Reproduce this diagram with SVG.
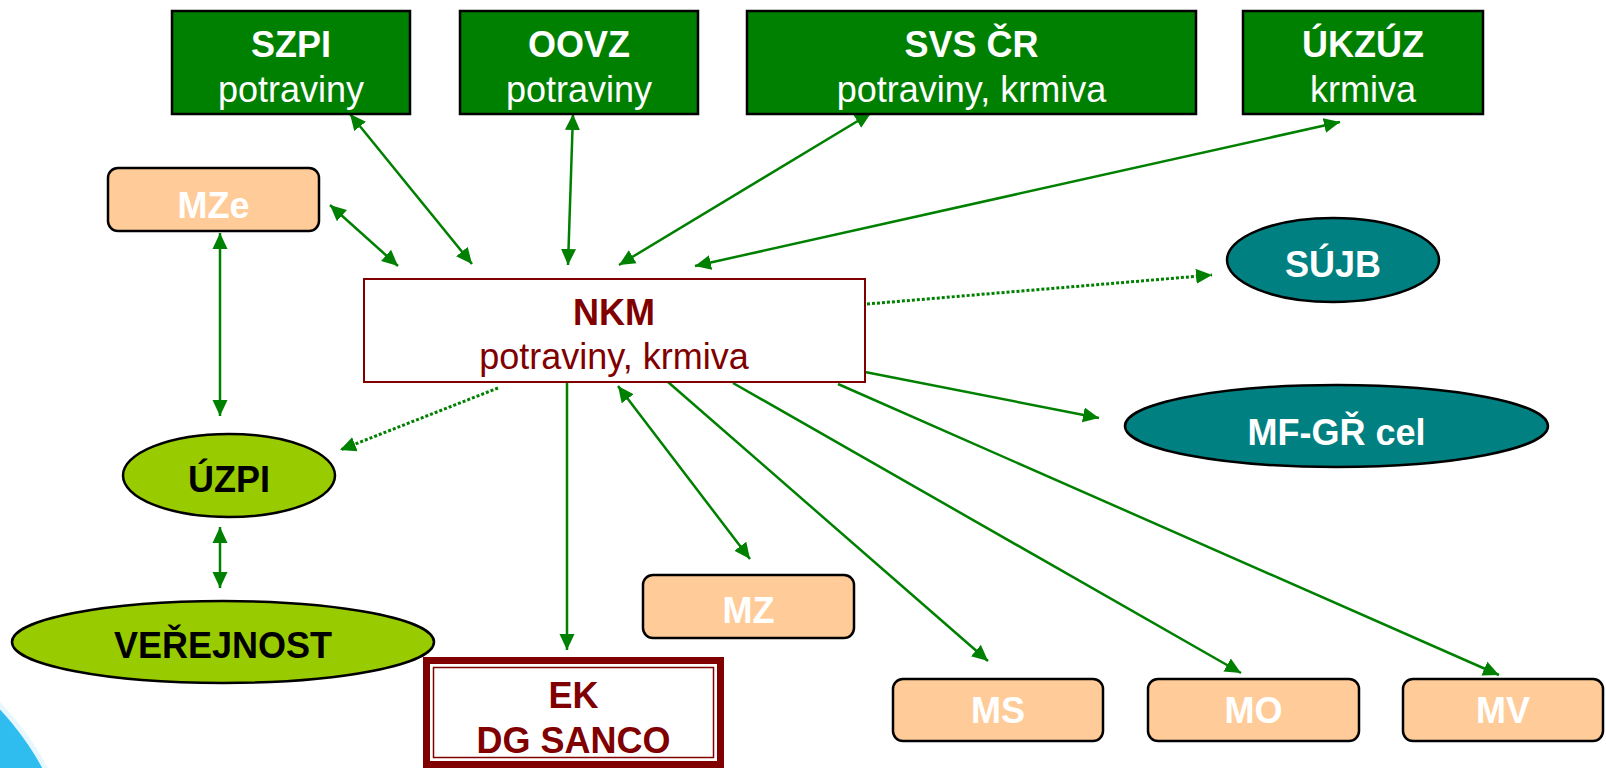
<svg xmlns="http://www.w3.org/2000/svg" width="1606" height="768" viewBox="0 0 1606 768">
  <style>
    text { font-family: "Liberation Sans", Arial, sans-serif; font-size: 36px; text-anchor: middle; }
    .b { font-weight: bold; }
    .w { fill: #FFFFFF; }
    .k { fill: #000000; }
    .m { fill: #800000; }
    .green { fill: #008000; stroke: #000000; stroke-width: 2.5; }
    .peach { fill: #FFCC99; stroke: #000000; stroke-width: 2.5; }
    .teal { fill: #008080; stroke: #000000; stroke-width: 2.5; }
    .lime { fill: #99CC00; stroke: #000000; stroke-width: 2.5; }
    .c { stroke: #008000; stroke-width: 2.5; fill: none; }
    .d { stroke: #008000; stroke-width: 3; fill: none; stroke-dasharray: 3 2; }
    .e1 { marker-end: url(#ah); }
    .e2 { marker-start: url(#ah); marker-end: url(#ah); }
  </style>
  <defs>
    <marker id="ah" viewBox="0 0 10 10" refX="10" refY="5" markerWidth="16" markerHeight="16" markerUnits="userSpaceOnUse" orient="auto-start-reverse">
      <path d="M0,0.3 L10,5 L0,9.7 z" fill="#008000"/>
    </marker>
  </defs>

  <circle cx="-210" cy="905" r="292" fill="#E8F6FD"/>
  <circle cx="-210" cy="905" r="287" fill="#2FBDF0"/>

  <g id="connectors">
    <line class="c e2" x1="350" y1="114" x2="472" y2="264"/>
    <line class="c e2" x1="330" y1="205" x2="398" y2="266"/>
    <line class="c e2" x1="573" y1="114" x2="568" y2="265"/>
    <line class="c e2" x1="871" y1="113" x2="619" y2="265"/>
    <line class="c e2" x1="1340" y1="122" x2="695" y2="266"/>
    <line class="d e1" x1="867" y1="304" x2="1212" y2="275"/>
    <line class="c e1" x1="865" y1="372" x2="1099" y2="418"/>
    <line class="c e1" x1="668" y1="382" x2="988" y2="661"/>
    <line class="c e1" x1="733" y1="383" x2="1241" y2="673"/>
    <line class="c e1" x1="838" y1="384" x2="1499" y2="675"/>
    <line class="c e2" x1="618" y1="386" x2="750" y2="559"/>
    <line class="c e1" x1="567" y1="382" x2="567" y2="650"/>
    <line class="d e1" x1="498" y1="388" x2="340" y2="450"/>
    <line class="c e2" x1="220" y1="233" x2="220" y2="416"/>
    <line class="c e2" x1="220" y1="527" x2="220" y2="588"/>
  </g>

  <g id="szpi">
    <rect class="green" x="172" y="11" width="238" height="103"/>
    <text class="b w" x="291" y="57">SZPI</text>
    <text class="w" x="291" y="102">potraviny</text>
  </g>
  <g id="oovz">
    <rect class="green" x="460" y="11" width="238" height="103"/>
    <text class="b w" x="579" y="57">OOVZ</text>
    <text class="w" x="579" y="102">potraviny</text>
  </g>
  <g id="svs">
    <rect class="green" x="747" y="11" width="449" height="103"/>
    <text class="b w" x="971.5" y="57">SVS ČR</text>
    <text class="w" x="971.5" y="102">potraviny, krmiva</text>
  </g>
  <g id="ukzuz">
    <rect class="green" x="1243" y="11" width="240" height="103"/>
    <text class="b w" x="1363" y="57">ÚKZÚZ</text>
    <text class="w" x="1363" y="102">krmiva</text>
  </g>

  <g id="mze">
    <rect class="peach" x="108" y="168" width="211" height="63" rx="10"/>
    <text class="b w" x="213.5" y="218">MZe</text>
  </g>

  <g id="nkm">
    <rect x="364" y="279" width="501" height="103" fill="#FFFFFF" stroke="#800000" stroke-width="2"/>
    <text class="b m" x="614" y="325">NKM</text>
    <text class="m" x="614" y="369">potraviny, krmiva</text>
  </g>

  <g id="sujb">
    <ellipse class="teal" cx="1333" cy="260" rx="106" ry="42"/>
    <text class="b w" x="1333" y="277">SÚJB</text>
  </g>
  <g id="mfgr">
    <ellipse class="teal" cx="1336.5" cy="426" rx="211.5" ry="41"/>
    <text class="b w" x="1336.5" y="445">MF-GŘ cel</text>
  </g>

  <g id="uzpi">
    <ellipse class="lime" cx="229" cy="475.5" rx="106" ry="41.5"/>
    <text class="b k" x="229" y="492">ÚZPI</text>
  </g>
  <g id="verejnost">
    <ellipse class="lime" cx="223" cy="642" rx="211" ry="41"/>
    <text class="b k" x="223" y="658">VEŘEJNOST</text>
  </g>

  <g id="mz">
    <rect class="peach" x="643" y="575" width="211" height="63" rx="10"/>
    <text class="b w" x="748.5" y="623">MZ</text>
  </g>

  <g id="ek">
    <rect x="423" y="657" width="301" height="115" fill="#800000"/>
    <rect x="430" y="664" width="287" height="97" fill="#FFFFFF"/>
    <rect x="433.5" y="667.5" width="280" height="90" fill="none" stroke="#800000" stroke-width="1.5"/>
    <text class="b m" x="573.5" y="708">EK</text>
    <text class="b m" x="573.5" y="753">DG SANCO</text>
  </g>

  <g id="ms">
    <rect class="peach" x="893" y="679" width="210" height="62" rx="10"/>
    <text class="b w" x="998" y="723">MS</text>
  </g>
  <g id="mo">
    <rect class="peach" x="1148" y="679" width="211" height="62" rx="10"/>
    <text class="b w" x="1253.5" y="723">MO</text>
  </g>
  <g id="mv">
    <rect class="peach" x="1403" y="679" width="200" height="62" rx="10"/>
    <text class="b w" x="1503" y="723">MV</text>
  </g>
</svg>
